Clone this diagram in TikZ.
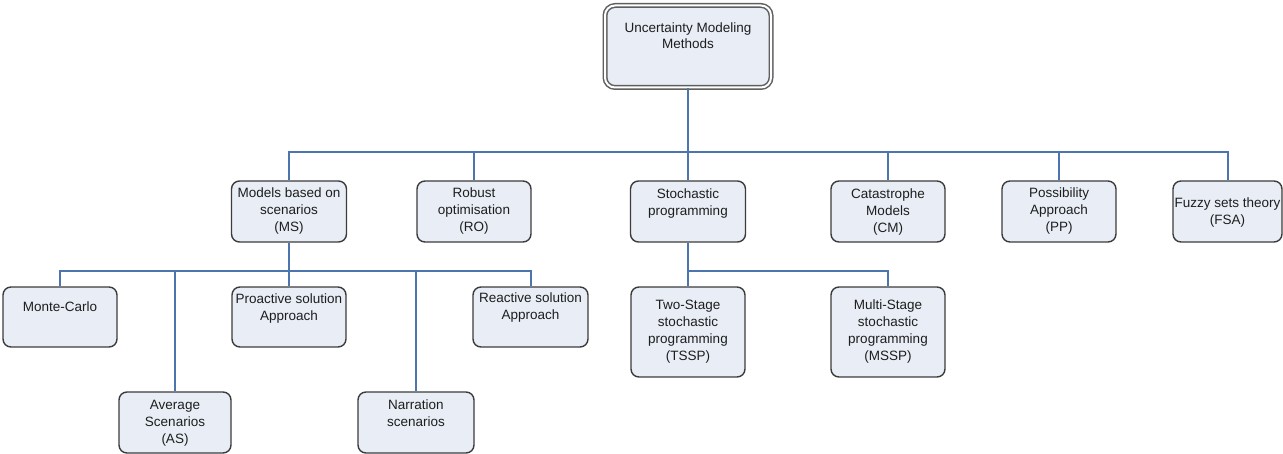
\documentclass[tikz,border=0pt]{standalone}
\usepackage{fontspec}
\setmainfont{Liberation Sans}

\definecolor{boxfill}{RGB}{232,237,246}
\definecolor{boxline}{RGB}{60,60,60}
\definecolor{rootline}{RGB}{95,95,95}
\definecolor{linkblue}{RGB}{76,116,174}
\definecolor{textgray}{RGB}{30,30,30}

\tikzset{
  boxshape/.style={draw=boxline, fill=boxfill, line width=1.4pt,
    rounded corners=8pt, inner sep=0pt},
  rootshape/.style={draw=rootline, double=white, double distance=2pt,
    line width=1.5pt, fill=boxfill, rounded corners=10pt, inner sep=0pt},
  boxtext/.style={anchor=north, inner sep=0pt, align=center, text=textgray,
    font=\fontsize{13.5}{17}\selectfont},
  link/.style={draw=linkblue, line width=2pt}
}

% #1 name, #2 centre x, #3 top y, #4 width, #5 height, #6 centre of first text line, #7 text
\newcommand\treebox[7]{%
  \node[boxshape, minimum width=#4pt, minimum height=#5pt] (#1) at (#2,{#3+#5/2}) {};
  \node[boxtext] (#1-text) at (#2,{#6-5.5}) {#7};
}

\begin{document}
\begin{tikzpicture}[x=1pt,y=-1pt]
  \useasboundingbox[fill=white] (0,0) rectangle (1283,454);

  % junction points of the connector buses
  \coordinate (bus1) at (688,152);
  \coordinate (busms) at (289,271);
  \coordinate (bussp) at (688,271);

  % root
  \node[rootshape, minimum width=166pt, minimum height=82pt] (root) at (688,46.5) {};
  \node[boxtext, font=\fontsize{13.5}{16}\selectfont] (root-text) at (688,22.5)
    {Uncertainty Modeling\\Methods};

  % first level
  \treebox{ms}{289}{181}{115}{61}{193}{Models based on\\scenarios\\(MS)}
  \treebox{ro}{474}{181}{114}{61}{193}{Robust\\optimisation\\(RO)}
  \treebox{sp}{688}{181}{115}{61}{194}{Stochastic\\programming}
  \treebox{cm}{888}{181}{114}{61}{194}{Catastrophe\\Models\\(CM)}
  \treebox{pp}{1059}{181}{114}{61}{193}{Possibility\\Approach\\(PP)}
  \treebox{fsa}{1227.5}{181}{109}{61}{203}{Fuzzy sets theory\\(FSA)}

  % second level under MS
  \treebox{mc}{60}{287}{114}{60}{307}{Monte-Carlo}
  \treebox{pro}{289}{287}{114}{60}{299}{Proactive solution\\Approach}
  \treebox{rea}{530.5}{287}{115}{60}{298}{Reactive solution\\Approach}
  \treebox{as}{175}{392}{112}{61}{406}{Average\\Scenarios\\(AS)}
  \treebox{nar}{416}{392}{116}{61}{405}{Narration\\scenarios}

  % second level under SP
  \treebox{tssp}{688}{287}{114}{90}{305}{Two-Stage\\stochastic\\programming\\(TSSP)}
  \treebox{mssp}{888}{287}{114}{90}{305}{Multi-Stage\\stochastic\\programming\\(MSSP)}

  % connectors
  \draw[link] (root.south) -- (bus1);
  \foreach \c in {ms,ro,sp,cm,pp,fsa} \draw[link] (bus1) -| (\c.north);
  \draw[link] (ms.south) -- (busms);
  \foreach \c in {mc,pro,rea,as,nar} \draw[link] (busms) -| (\c.north);
  \draw[link] (sp.south) -- (bussp);
  \foreach \c in {tssp,mssp} \draw[link] (bussp) -| (\c.north);
\end{tikzpicture}
\end{document}
